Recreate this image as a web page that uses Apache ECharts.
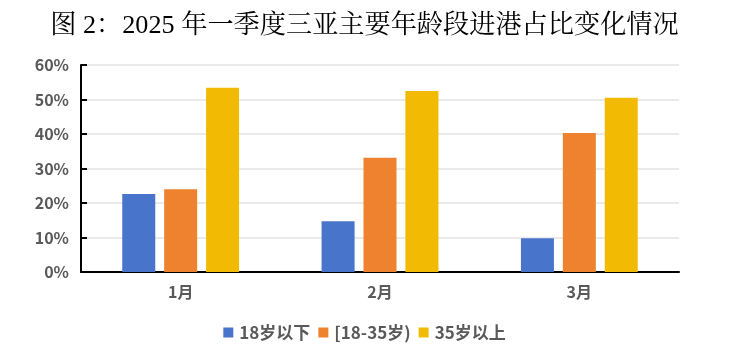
<!DOCTYPE html>
<html>
<head>
<meta charset="utf-8">
<script src="https://cdn.jsdelivr.net/npm/echarts@6/dist/echarts.min.js"></script>
<style>html,body{margin:0;padding:0;background:#fff}#c{width:729px;height:355px}</style>
</head>
<body>
<div id="c"></div>
<script>
const categories = ['1月', '2月', '3月'];
const seriesNames = ['18岁以下', '[18-35岁)', '35岁以上'];
const under18 = [22.6, 14.7, 9.8];
const age18to35 = [24.0, 33.1, 40.3];
const over35 = [53.4, 52.5, 50.5];
const yTicks = [0, 10, 20, 30, 40, 50, 60];

const colors = ['#4874CB', '#EE822F', '#F2BA02'];
const labelColor = '#595959';
const cjk = '"Liberation Serif","Times New Roman","Noto Serif CJK SC","Noto Sans CJK SC",serif';
const sans = '"Noto Sans CJK SC","Noto Sans",sans-serif';

const chart = echarts.init(document.getElementById('c'));
const data = [under18, age18to35, over35];
chart.setOption({
  animation: false,
  color: colors,
  title: {
    text: '图 2：2025 年一季度三亚主要年龄段进港占比变化情况',
    left: 'center',
    top: 8,
    textStyle: { fontFamily: cjk, fontSize: 26.2, fontWeight: 'normal', color: '#000' }
  },
  legend: {
    bottom: 9,
    left: 'center',
    itemWidth: 10,
    itemHeight: 10,
    itemGap: 8,
    icon: 'rect',
    textStyle: { fontFamily: sans, fontSize: 17, fontWeight: 'bold', color: labelColor, padding: [0, 0, 0, 1] },
    data: seriesNames
  },
  grid: { left: 81, right: 50, top: 65, bottom: 83 },
  xAxis: {
    type: 'category',
    data: categories,
    axisLine: { lineStyle: { color: '#000', width: 2 } },
    axisTick: { show: false },
    axisLabel: { fontFamily: sans, fontSize: 16, fontWeight: 'bold', color: labelColor, margin: 12 }
  },
  yAxis: {
    type: 'value',
    min: yTicks[0],
    max: yTicks[yTicks.length - 1],
    interval: 10,
    axisLine: { show: true, lineStyle: { color: '#000', width: 2 } },
    axisTick: { show: true, inside: true, length: 6, lineStyle: { color: '#000', width: 2 } },
    splitLine: { lineStyle: { color: '#E3E3E3', width: 1.5 } },
    axisLabel: { fontFamily: sans, fontSize: 16, fontWeight: 'bold', color: labelColor, margin: 12, formatter: v => v + '%' }
  },
  series: seriesNames.map((n, i) => ({
    name: n,
    type: 'bar',
    data: data[i],
    barWidth: 33,
    barGap: '27%',
    itemStyle: { borderRadius: 0 }
  }))
});
</script>
</body>
</html>
